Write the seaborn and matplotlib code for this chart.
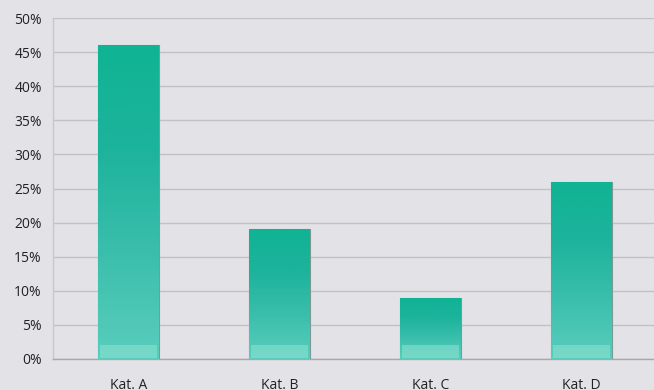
import numpy as np
import matplotlib
matplotlib.use("Agg")
import matplotlib.pyplot as plt
from matplotlib.colors import LinearSegmentedColormap
import seaborn as sns
import pandas as pd

categories = ["Kat. A", "Kat. B", "Kat. C", "Kat. D"]
values = [46, 19, 9, 26]
yticks = [0, 5, 10, 15, 20, 25, 30, 35, 40, 45, 50]

sns.set_theme(style="white")
plt.rcParams['font.family'] = ['Open Sans', 'DejaVu Sans']

bg = "#e3e3e7"
fig = plt.figure(figsize=(6.54, 3.9), dpi=100, facecolor=bg)
ax = fig.add_axes([53/654, 31/390, 604/654, 341/390], facecolor=bg)

df = pd.DataFrame({"cat": categories, "val": values})
sns.barplot(data=df, x="cat", y="val", ax=ax, width=0.4, color="#2db8a5",
            edgecolor="#7a9a94", linewidth=0.8, zorder=3)

cmap = LinearSegmentedColormap.from_list(
    "teal", ["#10b394", "#1db39c", "#3bbfac", "#5acdbd"])
grad = np.linspace(0, 1, 256).reshape(-1, 1)
for p in ax.patches:
    x0, y0 = p.get_x(), p.get_y()
    w, h = p.get_width(), p.get_height()
    im = ax.imshow(grad, aspect="auto", cmap=cmap, origin="upper",
                   extent=[x0, x0 + w, y0, y0 + h], zorder=3.5)
    im.set_clip_path(p)
    # lighter band at the bottom
    ax.add_patch(plt.Rectangle((x0 + w*0.03, 0.1), w*0.94, 2.0, facecolor="#8fe3d2",
                               alpha=0.55, edgecolor="none", zorder=3.6))

ax.set_xlim(-0.5, 3.5)
ax.set_ylim(0, 50)
ax.set_yticks(yticks)
ax.set_yticklabels([f"{v}%" for v in yticks], fontsize=10, color="#222222")
ax.set_xticks(range(len(categories)))
ax.set_xticklabels(categories, fontsize=10, color="#222222")
ax.set_xlabel("")
ax.set_ylabel("")
ax.yaxis.grid(True, color="#c2c2c6", linewidth=1.0, zorder=0)
ax.set_axisbelow(True)

for s in ["top", "right"]:
    ax.spines[s].set_visible(False)
ax.spines["left"].set_color("#c8c8cc")
ax.spines["bottom"].set_color("#a8a8ac")
ax.spines["left"].set_linewidth(1.0)
ax.spines["bottom"].set_linewidth(1.0)

ax.tick_params(axis="y", length=5, width=0.8, color="#b4b4b8", pad=3, direction="out")
ax.tick_params(axis="x", length=0, pad=14)
ax.set_xticks([0.5, 1.5, 2.5], minor=True)
ax.tick_params(axis="x", which="minor", length=4, width=0.8, color="#a8a8ac")

fig.savefig("out.png", dpi=100, facecolor=bg)
